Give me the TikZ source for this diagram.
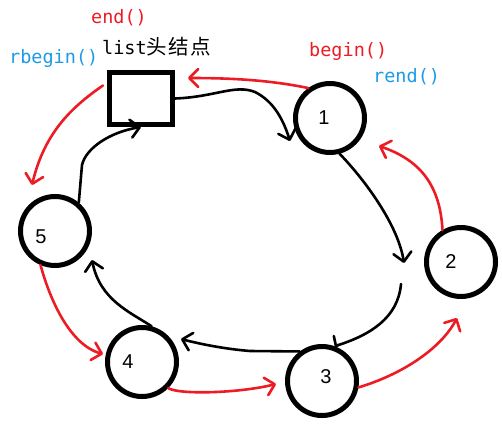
\documentclass[tikz,border=0pt]{standalone}
\usepackage{fontspec}
\newfontfamily\monofont{DejaVu Sans Mono}
\newfontfamily\cjk{Noto Sans CJK SC}
\newfontfamily\digitfont{Liberation Sans}
\usetikzlibrary{arrows.meta}
\definecolor{pred}{HTML}{ED1C24}
\definecolor{pblue}{HTML}{1E9BE6}
\begin{document}
\begin{tikzpicture}[x=1pt,y=-1pt,
  listnode/.style={circle,draw,line width=5pt,minimum size=69pt,inner sep=0pt},
  digit/.style={font=\digitfont\fontsize{20}{20}\selectfont,inner sep=0pt},
  headbox/.style={draw,line width=5pt,minimum width=63pt,minimum height=52pt,inner sep=0pt},
  barb/.style={-{Straight Barb[length=9pt,width=18pt,round]}},
  nextlink/.style={line width=2.6pt,line cap=round,line join=round},
  prevlink/.style={pred,line width=2.6pt,line cap=round,line join=round},
  lbl/.style={font=\monofont\fontsize{18.5}{20}\selectfont,inner sep=0pt,anchor=base west}
]
\useasboundingbox (0,0) rectangle (502,426);

% nodes
\node[headbox] (head) at (141,98.5) {};
\node[listnode,label={[digit,xshift=-6pt]center:1}] (n1) at (330,118) {};
\node[listnode,label={[digit,xshift=-10pt]center:2}] (n2) at (461,262) {};
\node[listnode,label={[digit,xshift=4pt,yshift=4pt]center:3}] (n3) at (322,381) {};
\node[listnode,label={[digit,xshift=-14pt]center:4}] (n4) at (142,362) {};
\node[listnode,label={[digit,xshift=-14pt,yshift=-6pt]center:5}] (n5) at (55,231) {};

% texts
\node[lbl,text=pred] (tend) at (91,23) {end()};
\node[lbl] (thead) at (102,54) {list{\cjk\fontsize{20.5}{22}\selectfont 头\hspace{1.5pt}结\hspace{1.5pt}点}};
\node[lbl,text=pblue] (trbegin) at (9,63) {rbegin()};
\node[lbl,text=pred] (tbegin) at (309,56) {begin()};
\node[lbl,text=pblue] (trend) at (373,82) {rend()};

% free ends
\coordinate (t1) at (290,141);
\coordinate (t2) at (404,263);
\coordinate (s3) at (401,284);
\coordinate (t4) at (181,339);
\coordinate (t5) at (92,260);
\coordinate (r1) at (188,78);
\coordinate (r2) at (32,185);
\coordinate (r3) at (103,354);
\coordinate (r4) at (276,384);
\coordinate (r5) at (457,318);
\coordinate (r6) at (379,146);

% black: next pointers
\draw[nextlink,barb] (head.east) .. controls (215,97) and (235,84) .. (255,92)
   .. controls (275,102) and (284,122) .. (t1);
\draw[nextlink,barb] (n1.-75) .. controls (365,180) and (398,225) .. (t2);
\draw[nextlink,-{Straight Barb[length=1pt,width=20pt,round,harpoon,swap]}] (s3) .. controls (398,318) and (370,335) .. (n3.70);
\draw[nextlink,barb] (n3.127) -- (250,351) .. controls (225,349) and (200,344) .. (t4);
\draw[nextlink,barb] (n4.75) .. controls (130,312) and (100,300) .. (t5);
\draw[nextlink,barb] (n5.50) -- (82,165) .. controls (86,148) and (110,132) .. (head.south);

% red: prev pointers
\draw[prevlink,barb] (n1.126) .. controls (270,80) and (230,78) .. (r1);
\draw[prevlink,barb,shorten <=5pt] (head.155) .. controls (75,105) and (45,130) .. (r2);
\draw[prevlink,barb] (n5.247) .. controls (50,300) and (70,345) .. (r3);
\draw[prevlink,barb] (n4.-45) .. controls (180,395) and (240,393) .. (r4);
\draw[prevlink,barb] (n3.-10) .. controls (400,375) and (440,350) .. (r5);
\draw[prevlink,barb] (n2.120) .. controls (440,185) and (420,160) .. (r6);
\end{tikzpicture}
\end{document}
